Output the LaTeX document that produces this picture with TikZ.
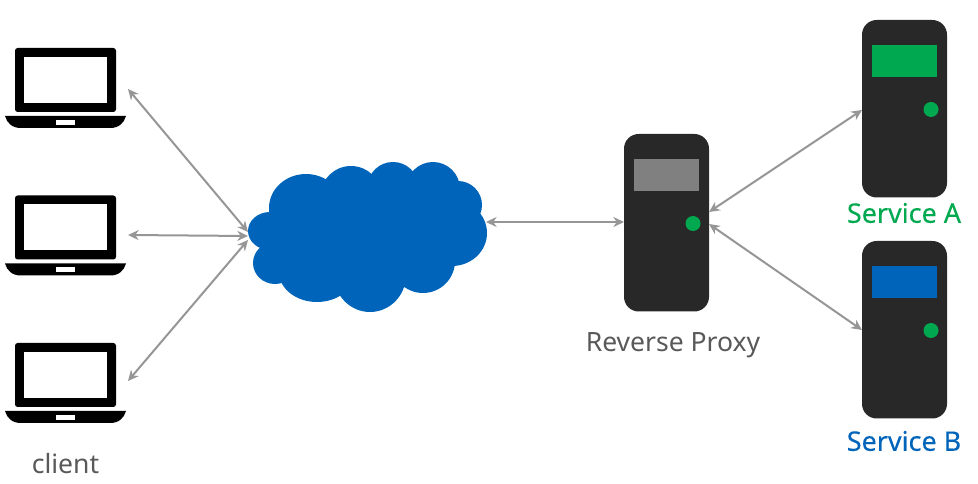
\documentclass[tikz,border=0pt]{standalone}
\usepackage{fontspec}
\setmainfont{Noto Sans}
\usetikzlibrary{arrows.meta}
\definecolor{bodyc}{HTML}{282828}
\definecolor{greenc}{HTML}{00A94F}
\definecolor{bluec}{HTML}{0065BA}
\definecolor{screenc}{HTML}{808080}
\definecolor{linec}{HTML}{969696}
\definecolor{textc}{HTML}{595959}
\tikzset{
  link/.style={draw=linec,line width=1.5pt,{Stealth[length=8pt,width=7.5pt]}-{Stealth[length=8pt,width=7.5pt]}},
  tower/.style={draw=none,fill=bodyc,rounded corners=11pt},
  lab/.style={inner sep=0pt,outer sep=0pt,font=\fontsize{19.9pt}{22pt}\selectfont},
  labsvc/.style={inner sep=0pt,outer sep=0pt,font=\fontsize{20.2pt}{22pt}\selectfont\addfontfeature{FakeBold=0.25}}
}
\newcommand{\laptop}[2]{%
  \begin{scope}[shift={(0,#2)}]
    \fill[black,rounded corners=2pt] (15,48) rectangle (116,112);
    \fill[white] (24,57) rectangle (107,103);
    \fill[black] (5,116) -- (126,116) .. controls (124,123) and (119,128) .. (110,128) -- (21,128) .. controls (12,128) and (7,123) .. (5,116) -- cycle;
    \fill[white] (56,120) rectangle (75,125);
  \end{scope}
}
\newcommand{\server}[4]{%
  \begin{scope}[shift={(#2,#3)}]
    \fill[tower] (0,0) rectangle (85,177.5);
    \fill[#4] (10,25) rectangle (75,57);
    \fill[greenc] (69,89.5) circle (7.5);
  \end{scope}
}
\begin{document}
\begin{tikzpicture}[x=0.75pt,y=-0.75pt]
\useasboundingbox (0,0) rectangle (978,484);
\laptop{lapa}{0}
\laptop{lapb}{147.5}
\laptop{lapc}{295}
\coordinate (lapaend) at (128,89);
\coordinate (lapbend) at (128,235);
\coordinate (lapcend) at (128,381);
% cloud
\fill[bluec]
  (306,208) ellipse [x radius=37,y radius=34]
  (351,195) ellipse [x radius=30,y radius=29]
  (393,186) ellipse [x radius=25,y radius=24]
  (433,189) ellipse [x radius=27,y radius=27]
  (458,205) ellipse [x radius=24,y radius=24]
  (452,233) ellipse [x radius=35,y radius=33]
  (423,261) ellipse [x radius=32,y radius=32]
  (370,275) ellipse [x radius=36,y radius=37]
  (317,272) ellipse [x radius=38,y radius=30]
  (275,263) ellipse [x radius=22,y radius=21]
  (270,231) ellipse [x radius=22,y radius=19]
  (370,235) ellipse [x radius=90,y radius=50];
\coordinate (cloudw) at (248,236);
\coordinate (cloudwa) at (248,232);
\coordinate (cloudwc) at (248,240);
\coordinate (cloude) at (486,222);
% servers
\server{proxy}{624}{134}{screenc}
\server{sa}{862}{20}{greenc}
\server{sb}{862}{241}{bluec}
\coordinate (proxyw) at (624,222);
\coordinate (proxyne) at (709,212);
\coordinate (proxyse) at (709,224);
\coordinate (saw) at (862,110);
\coordinate (sbw) at (862,330);
% links
\draw[link] (lapaend) -- (cloudwa);
\draw[link] (lapbend) -- (cloudw);
\draw[link] (lapcend) -- (cloudwc);
\draw[link] (cloude) -- (proxyw);
\draw[link] (proxyne) -- (saw);
\draw[link] (proxyse) -- (sbw);
% labels
\node[lab,text=textc] (lclient) at (65.5,464) {client};
\node[lab,text=textc] (lproxy) at (673,345) {Reverse Proxy};
\node[labsvc,text=greenc] (lsa) at (904,213) {Service A};
\node[labsvc,text=bluec] (lsb) at (904,441) {Service B};
\end{tikzpicture}
\end{document}
